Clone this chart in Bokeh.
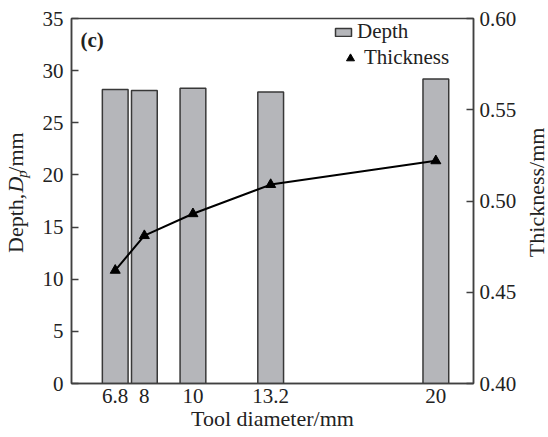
import math
from bokeh.plotting import figure
from bokeh.layouts import row
from bokeh.models import (Range1d, LinearAxis, FixedTicker, Label, Legend, LegendItem,
                          ColumnDataSource)
from bokeh.core.properties import value
from bokeh.embed import file_html
from bokeh.resources import INLINE

# ---- data ----
tool_diameter = [6.8, 8, 10, 13.2, 20]
tool_labels = ["6.8", "8", "10", "13.2", "20"]
depth = [28.2, 28.1, 28.3, 27.95, 29.2]
thickness = [0.462, 0.481, 0.493, 0.509, 0.522]
depth_ticks = [0, 5, 10, 15, 20, 25, 30, 35]
thick_ticks = [0.40, 0.45, 0.50, 0.55, 0.60]
thick_tick_labels = ["0.40", "0.45", "0.50", "0.55", "0.60"]

FONT = "Liberation Serif"
AX = "#404040"
TXT = "#222222"
H = 437
LW, RW = 36, 24

src = ColumnDataSource(dict(x=tool_diameter, depth=depth, thick=thickness))

p = figure(width=548 - LW - RW, height=H, output_backend="svg", toolbar_location=None,
           x_range=Range1d(5.0, 21.55), y_range=Range1d(0, 35),
           min_border_left=71 - LW, min_border_right=75 - RW, min_border_top=18,
           min_border_bottom=54, background_fill_color="white",
           border_fill_color="white")
p.extra_y_ranges = {"thick": Range1d(0.40, 0.60)}
p.grid.visible = False
p.outline_line_color = AX
p.outline_line_width = 1.5

bars = p.vbar(x="x", top="depth", width=1.06, source=src, fill_color="#b5b6ba",
              line_color="#383838", line_width=1.5)
p.line(x="x", y="thick", source=src, y_range_name="thick", line_color="black",
       line_width=2)
tri = p.scatter(x="x", y="thick", source=src, y_range_name="thick", marker="triangle",
                size=10, fill_color="black", line_color="black")

# x axis
xa = p.xaxis[0]
xa.ticker = FixedTicker(ticks=tool_diameter)
xa.major_label_overrides = {t: l for t, l in zip(tool_diameter, tool_labels)}
xa.major_tick_in = 0
xa.major_tick_out = 0
xa.minor_tick_line_color = None
xa.axis_line_color = AX
xa.axis_line_width = 1.5
xa.major_label_standoff = 5
xa.axis_label = "Tool diameter/mm"
xa.axis_label_standoff = 0

# left axis
ya = p.yaxis[0]
ya.ticker = FixedTicker(ticks=depth_ticks)
ya.major_tick_in = 7
ya.major_tick_out = 0
ya.minor_tick_line_color = None
ya.major_tick_line_color = AX
ya.major_tick_line_width = 1.5
ya.axis_line_color = AX
ya.axis_line_width = 1.5
ya.major_label_standoff = 8

# right axis
ra = LinearAxis(y_range_name="thick", ticker=FixedTicker(ticks=thick_ticks))
ra.major_label_overrides = {t: l for t, l in zip(thick_ticks, thick_tick_labels)}
ra.major_tick_in = 7
ra.major_tick_out = 0
ra.minor_tick_line_color = None
ra.major_tick_line_color = AX
ra.major_tick_line_width = 1.5
ra.axis_line_color = AX
ra.axis_line_width = 1.5
ra.major_label_standoff = 6
p.add_layout(ra, "right")

for ax in (xa, ya, ra):
    ax.major_label_text_font = FONT
    ax.major_label_text_font_size = "21px"
    ax.major_label_text_color = TXT
    ax.axis_label_text_font = FONT
    ax.axis_label_text_font_size = "22px"
    ax.axis_label_text_font_style = "normal"
    ax.axis_label_text_color = TXT

# panel tag
p.add_layout(Label(x=9, y=344, x_units="screen", y_units="screen", text="(c)",
                   text_font=FONT, text_font_size="21px", text_font_style="bold",
                   text_color=TXT, text_baseline="middle"))

# legends
def mk_legend(item, loc, gh):
    lg = Legend(items=[item], location=loc, orientation="vertical",
                glyph_width=20, glyph_height=gh, label_standoff=4, padding=0,
                margin=0, spacing=0, background_fill_alpha=0, border_line_alpha=0,
                label_text_font=FONT, label_text_font_size="21px",
                label_text_color=TXT)
    p.add_layout(lg)

mk_legend(LegendItem(label="Depth", renderers=[bars]), (262, 339), 10)
mk_legend(LegendItem(label="Thickness", renderers=[tri]), (269, 313), 20)


def strip(w):
    f = figure(width=w, height=H, output_backend="svg", toolbar_location=None,
               x_range=Range1d(0, w), y_range=Range1d(0, H), min_border=0,
               x_axis_location=None, y_axis_location=None,
               outline_line_color=None, background_fill_color="white",
               border_fill_color="white")
    f.grid.visible = False
    return f


def rtext(f, x, y, s, size="22px", style="normal"):
    f.text(x=[x], y=[y], text=[s], angle=math.pi / 2, text_font=value(FONT),
           text_font_size=size, text_font_style=style, text_color=TXT,
           text_align="center", text_baseline="middle")

# left strip: rotated y-axis title with italic D and subscript p
t = strip(LW)
rtext(t, 15.0, 191.8, "Depth,")
rtext(t, 15.0, 238.2, "D", style="italic")
rtext(t, 21.3, 250.9, "p", size="15px", style="italic")
rtext(t, 15.0, 276.6, "/mm")

# right strip: rotated right-axis title
r = strip(RW)
rtext(r, 12, 228.8, "Thickness/mm")

layout = row(t, p, r, spacing=0)
open("out.html", "w").write(file_html(layout, INLINE))
